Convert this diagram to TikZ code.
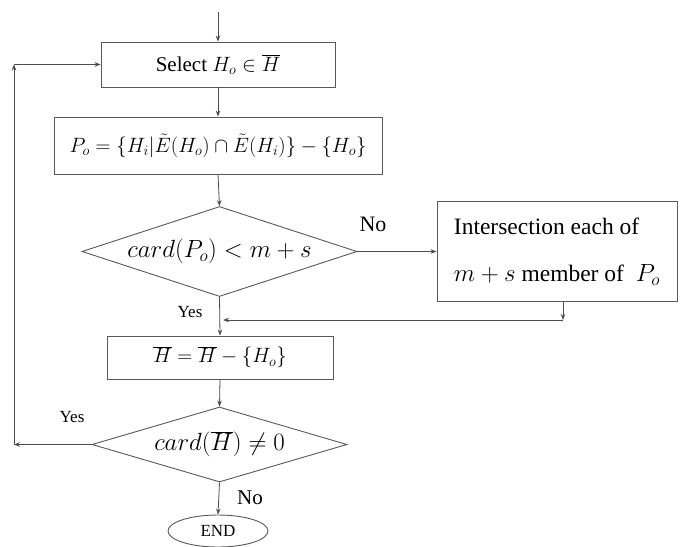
\documentclass[tikz,border=0pt]{standalone}
\usepackage{fontspec}
\setmainfont{Liberation Serif}
\usetikzlibrary{shapes.geometric,arrows.meta}
\begin{document}
\begin{tikzpicture}[x=1pt,y=-1pt,
  line/.style={draw=black!70, line width=0.8pt},
  arr/.style={line, -{Stealth[length=6pt,width=4.5pt]}},
  box/.style={draw=black!65, line width=0.9pt, rectangle, inner sep=0pt},
  dia/.style={draw=black!65, line width=0.9pt, diamond, inner sep=0pt},
  lbl/.style={inner sep=0pt}]
\useasboundingbox (0,0) rectangle (682,546);
\fill[white] (0,0) rectangle (682,546);

\coordinate (start) at (218,12);
\node[box, minimum width=234pt, minimum height=45pt] (sel) at (218,64.5)
  {\fontsize{21}{25}\selectfont Select $H_o\in\overline{H}$};
\node[box, minimum width=328pt, minimum height=57pt] (po) at (218,145.5)
  {\fontsize{22}{26}\selectfont $P_o=\{H_i|\tilde{E}(H_o)\cap\tilde{E}(H_i)\}-\{H_o\}$};
\node[dia, minimum width=275pt, minimum height=90pt, aspect=3.06] (d1) at (219.5,251.5)
  {\fontsize{25}{28}\selectfont $card(P_o)<m+s$};
\node[box, minimum width=240pt, minimum height=100pt, align=left,
  font=\fontsize{23.5}{47}\selectfont] (inter) at (557,251.5)
  {Intersection each of\\ $m+s$ member of\ \ $P_o$};
\node[box, minimum width=226pt, minimum height=43pt] (hb) at (220,357.5)
  {\fontsize{22}{26}\selectfont $\overline{H}=\overline{H}-\{H_o\}$};
\node[dia, minimum width=255pt, minimum height=75pt, aspect=3.4] (d2) at (219.5,444.5)
  {\fontsize{25}{28}\selectfont $card(\overline{H})\neq 0$};
\node[draw=black!65, line width=0.9pt, ellipse, minimum width=100pt, minimum height=32pt, inner sep=0pt,
  font=\fontsize{17}{20}\selectfont] (end) at (218,531) {END};

\coordinate (c1) at (563,320);
\coordinate (c2) at (223,320);
\coordinate (l1) at (14,444.5);
\coordinate (l2) at (14,64.5);

\draw[arr] (start) -- (sel.north);
\draw[arr] (sel.south) -- (po.north);
\draw[arr] (po.south) -- (d1.north);
\draw[arr] (d1.east) -- (inter.west);
\draw[arr] (d1.south) -- (hb.north);
\draw[arr] (inter.south -| c1) -- (c1);
\draw[arr] (c1) -- (c2);
\draw[arr] (hb.south) -- (d2.north);
\draw[arr] (d2.west) -- (l1);
\draw[arr] (l1) -- (l2);
\draw[arr] (l2) -- (sel.west);
\draw[arr] (d2.south) -- (end.north);

\node[lbl, font=\fontsize{22}{26}\selectfont] (no1) at (373,224) {No};
\node[lbl, font=\fontsize{17}{20}\selectfont] (yes1) at (190,312) {Yes};
\node[lbl, font=\fontsize{17}{20}\selectfont] (yes2) at (72,417) {Yes};
\node[lbl, font=\fontsize{21}{24}\selectfont] (no2) at (250,498) {No};
\end{tikzpicture}
\end{document}
